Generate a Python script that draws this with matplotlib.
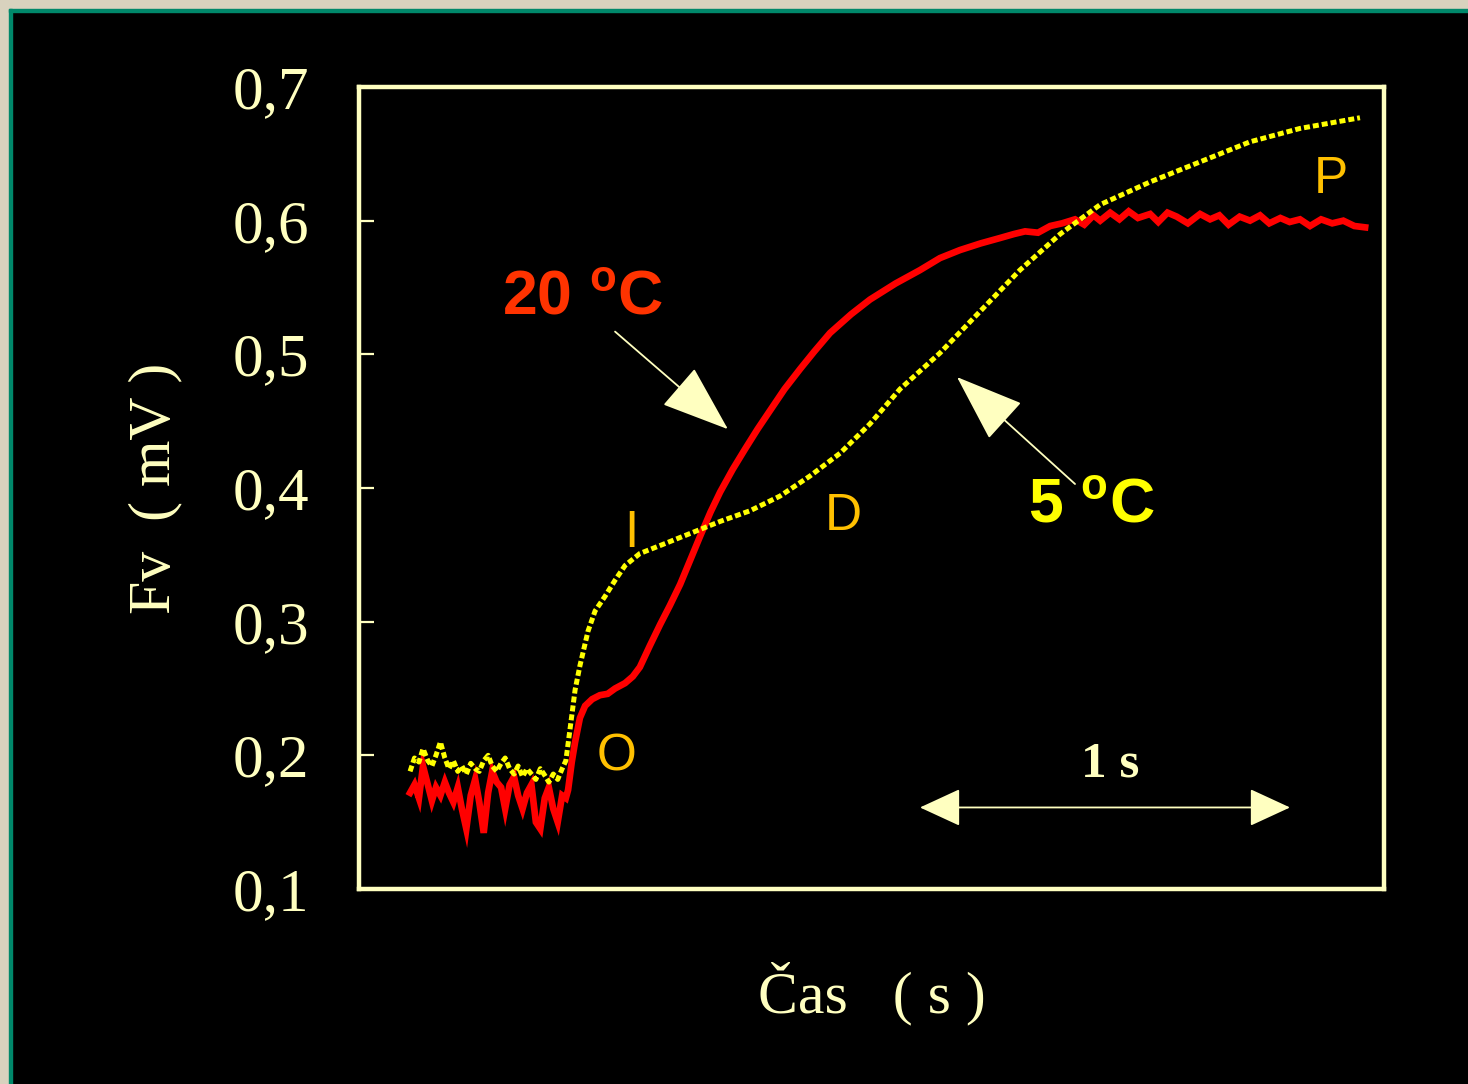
import matplotlib.pyplot as plt
from matplotlib.patches import Rectangle

# colours
bg = 'black'
cream = '#FFFFC0'
red = '#FF0000'
yellow = '#FFFF00'
label_orange = '#FFC000'

# 20 oC trace (time in s, Fv in mV)
t_20 = [0.138, 0.150, 0.162, 0.173, 0.186, 0.197, 0.208, 0.220, 0.232, 0.243,
        0.255, 0.267, 0.278, 0.290, 0.302, 0.314, 0.325, 0.337, 0.349, 0.360,
        0.372, 0.384, 0.395, 0.407, 0.419, 0.430, 0.442, 0.454, 0.466, 0.478,
        0.490, 0.502, 0.513, 0.525, 0.537, 0.549, 0.559,
        0.565, 0.575, 0.584, 0.597, 0.611, 0.630, 0.651, 0.672, 0.692, 0.719,
        0.740, 0.759, 0.786, 0.814, 0.840, 0.868, 0.895, 0.922, 0.950, 0.976,
        1.010, 1.043, 1.077, 1.111, 1.150, 1.192, 1.230, 1.273, 1.330, 1.381,
        1.450, 1.516, 1.570, 1.624, 1.680, 1.732, 1.770, 1.800, 1.835, 1.868,
        1.900, 1.935, 1.960, 1.985, 2.003, 2.030, 2.055, 2.080, 2.105, 2.138,
        2.160, 2.185, 2.210, 2.240, 2.273, 2.300, 2.325, 2.350, 2.380, 2.408,
        2.435, 2.460, 2.490, 2.515, 2.543, 2.570, 2.600, 2.630, 2.660, 2.690,
        2.719]
fv_20 = [0.172, 0.178, 0.168, 0.192, 0.178, 0.166, 0.176, 0.170, 0.180, 0.172,
         0.165, 0.176, 0.160, 0.145, 0.170, 0.182, 0.165, 0.142, 0.172, 0.188,
         0.180, 0.176, 0.160, 0.178, 0.184, 0.170, 0.160, 0.172, 0.178, 0.150,
         0.145, 0.168, 0.176, 0.160, 0.150, 0.170, 0.168,
         0.174, 0.195, 0.210, 0.228, 0.237, 0.242, 0.245, 0.246, 0.250, 0.254,
         0.259, 0.266, 0.282, 0.298, 0.312, 0.328, 0.346, 0.364, 0.382, 0.397,
         0.414, 0.429, 0.444, 0.458, 0.474, 0.489, 0.502, 0.516, 0.530, 0.541,
         0.553, 0.563, 0.572, 0.578, 0.583, 0.587, 0.590, 0.592, 0.591, 0.596,
         0.598, 0.601, 0.597, 0.604, 0.600, 0.606, 0.601, 0.607, 0.602, 0.605,
         0.599, 0.606, 0.603, 0.598, 0.605, 0.601, 0.604, 0.597, 0.603, 0.600,
         0.604, 0.598, 0.602, 0.599, 0.601, 0.596, 0.601, 0.598, 0.600, 0.596,
         0.595]

# 5 oC trace
t_5 = [0.138, 0.150, 0.162, 0.173, 0.186, 0.197, 0.208, 0.220, 0.232, 0.243,
       0.255, 0.267, 0.278, 0.290, 0.302, 0.314, 0.325, 0.337, 0.349, 0.360,
       0.372, 0.384, 0.395, 0.407, 0.419, 0.430, 0.442, 0.454, 0.466, 0.478,
       0.490, 0.502, 0.513, 0.525, 0.537, 0.549,
       0.559, 0.570, 0.584, 0.597, 0.619, 0.638, 0.665, 0.692, 0.719, 0.759,
       0.814, 0.895, 0.976, 1.057, 1.138, 1.219, 1.300, 1.381, 1.462, 1.570,
       1.678, 1.786, 1.895, 2.003, 2.138, 2.273, 2.408, 2.543, 2.705]
fv_5 = [0.188, 0.198, 0.195, 0.205, 0.196, 0.192, 0.200, 0.210, 0.198, 0.190,
        0.196, 0.188, 0.192, 0.186, 0.194, 0.190, 0.188, 0.196, 0.200, 0.192,
        0.188, 0.194, 0.198, 0.190, 0.186, 0.192, 0.184, 0.190, 0.186, 0.182,
        0.190, 0.185, 0.180, 0.186, 0.182, 0.190,
        0.196, 0.219, 0.249, 0.267, 0.293, 0.308, 0.319, 0.331, 0.342, 0.351,
        0.357, 0.366, 0.375, 0.383, 0.394, 0.409, 0.426, 0.448, 0.474, 0.501,
        0.532, 0.563, 0.590, 0.612, 0.629, 0.644, 0.659, 0.669, 0.677]

y_ticks = [0.1, 0.2, 0.3, 0.4, 0.5, 0.6, 0.7]
y_ticklabels = ['0,1', '0,2', '0,3', '0,4', '0,5', '0,6', '0,7']

phase_labels = ['O', 'I', 'D', 'P']
phase_t = [0.697, 0.735, 1.308, 2.627]
phase_fv = [0.199, 0.366, 0.379, 0.631]

plt.rcParams['mathtext.fontset'] = 'custom'
plt.rcParams['mathtext.rm'] = 'Liberation Sans'
plt.rcParams['mathtext.bf'] = 'Liberation Sans:bold'

fig = plt.figure(figsize=(14.68, 10.84), dpi=100, facecolor=bg)

# slide border (left and top strip)
fig.add_artist(Rectangle((0, 0), 9 / 1468, 1, transform=fig.transFigure, color='#D8D2BE', zorder=0))
fig.add_artist(Rectangle((0, 1 - 9 / 1084), 1, 9 / 1084, transform=fig.transFigure, color='#D8D2BE', zorder=0))
fig.add_artist(Rectangle((9 / 1468, 0), 2.5 / 1468, 1 - 9 / 1084, transform=fig.transFigure, color='#00886A', zorder=1))
fig.add_artist(Rectangle((9 / 1468, 1 - 11.5 / 1084), 1, 2.5 / 1084, transform=fig.transFigure, color='#00886A', zorder=1))

ax = fig.add_axes([359 / 1468, 1 - 889 / 1084, 1025 / 1468, 802 / 1084])
ax.set_facecolor(bg)

ax.plot(t_20, fv_20, color=red, lw=4.8, solid_joinstyle='miter', zorder=3)
ax.plot(t_5, fv_5, color=yellow, lw=3.6, linestyle=(0, (1.2, 0.6)), zorder=4)

ax.set_xlim(0, 2.77)
ax.set_ylim(0.1, 0.7)
ax.set_xticks([])
ax.set_yticks(y_ticks)
ax.set_yticklabels(y_ticklabels, fontfamily='Liberation Serif', fontsize=44, color=cream)
ax.tick_params(axis='y', direction='in', length=11, width=1.6, color=cream, pad=36)
for s in ax.spines.values():
    s.set_color(cream)
    s.set_linewidth(3.2)

ax.set_ylabel('Fv  ( mV )', fontfamily='Liberation Serif', fontsize=43, color=cream, labelpad=36)
ax.set_xlabel('Čas   ( s )', fontfamily='Liberation Serif', fontsize=43, color=cream, labelpad=52)

# temperature labels with arrows
arrow_kw = dict(arrowstyle='-|>,head_length=2.2,head_width=0.8', color=cream, lw=1.3,
                shrinkA=0, shrinkB=0, mutation_scale=20)
ax.annotate('', xy=(0.997, 0.444), xytext=(0.692, 0.517), arrowprops=arrow_kw)
ax.annotate('', xy=(1.616, 0.483), xytext=(1.935, 0.403), arrowprops=arrow_kw)
ax.text(0.605, 0.542, r'20 $^{\mathbf{o}}$C', fontfamily='Liberation Sans', fontweight='bold',
        fontsize=45, color='#FF3300', ha='center', va='center')
ax.text(1.978, 0.387, r'5 $^{\mathbf{o}}$C', fontfamily='Liberation Sans', fontweight='bold',
        fontsize=45, color=yellow, ha='center', va='center')

for lab, tt, ff in zip(phase_labels, phase_t, phase_fv):
    ax.text(tt, ff, lab, fontfamily='Liberation Sans', fontsize=37, color=label_orange,
            ha='center', va='center')

# 1 s scale bar
ax.annotate('', xy=(2.516, 0.161), xytext=(1.516, 0.161),
            arrowprops=dict(arrowstyle='<|-|>,head_length=1.3,head_width=0.6', color=cream,
                            lw=1.3, shrinkA=0, shrinkB=0, mutation_scale=20))
ax.text(2.03, 0.193, '1 s', fontfamily='Liberation Serif', fontweight='bold', fontsize=37,
        color=cream, ha='center', va='center')

plt.savefig('out.png', dpi=100, facecolor=bg)
